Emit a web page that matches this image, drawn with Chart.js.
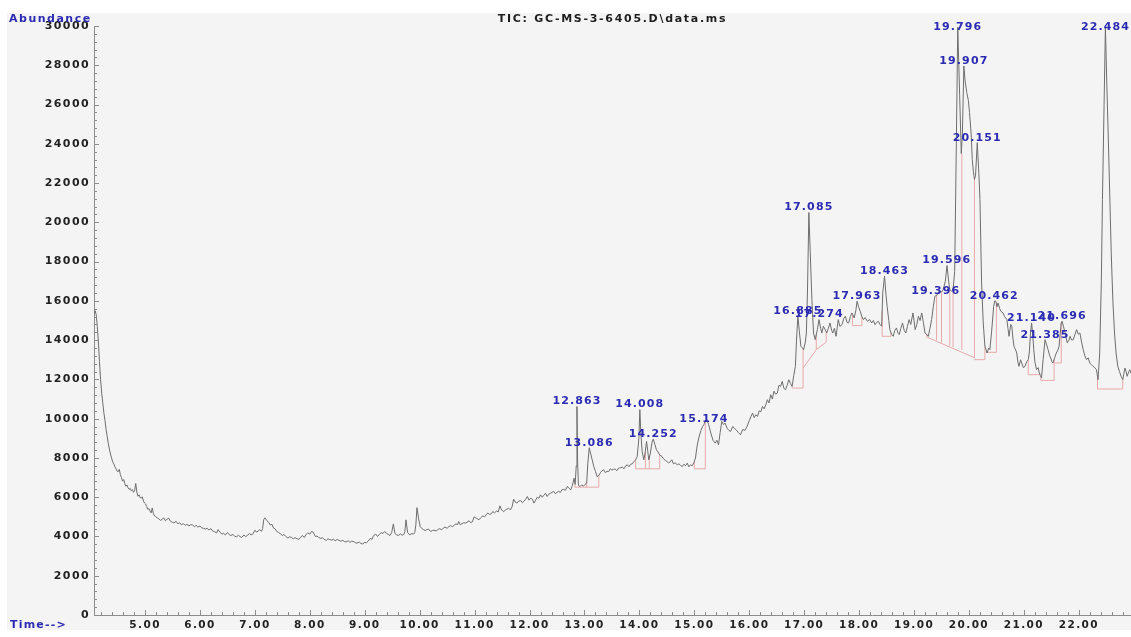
<!DOCTYPE html>
<html><head><meta charset="utf-8">
<script src="https://cdn.jsdelivr.net/npm/chart.js@4/dist/chart.umd.min.js"></script>
<style>html,body{margin:0;padding:0;background:#fff;overflow:hidden}canvas{display:block}</style>
</head><body>
<canvas id="c" width="1131" height="637"></canvas>
<script>
const chartTitle = 'TIC: GC-MS-3-6405.D\\data.ms';
const yAxisTitle = 'Abundance';
const xAxisTitle = 'Time-->';
const xTickValues = [5,6,7,8,9,10,11,12,13,14,15,16,17,18,19,20,21,22];
const xTickLabels = ['5.00','6.00','7.00','8.00','9.00','10.00','11.00','12.00','13.00','14.00','15.00','16.00','17.00','18.00','19.00','20.00','21.00','22.00'];
const yTickValues = [0,2000,4000,6000,8000,10000,12000,14000,16000,18000,20000,22000,24000,26000,28000,30000];
const yTickLabels = ['0','2000','4000','6000','8000','10000','12000','14000','16000','18000','20000','22000','24000','26000','28000','30000'];

// Total ion chromatogram: [retention time (min), abundance]
const tic = [
[4.07,15350],[4.09,15500],[4.11,15300],[4.13,14700],[4.15,13900],[4.17,12900],[4.19,12000],[4.21,11300],[4.23,10800],[4.25,10300],[4.27,9900],[4.29,9450],[4.31,9100],[4.33,8750],[4.35,8450],[4.37,8200],[4.39,8000],[4.41,7800],[4.43,7700],[4.45,7550],[4.47,7450],[4.49,7330],[4.51,7300],[4.53,7420],[4.55,7150],[4.57,7000],[4.59,6820],[4.61,6900],[4.63,6700],[4.65,6560],[4.67,6620],[4.69,6480],[4.71,6400],[4.73,6450],[4.75,6330],[4.77,6380],[4.79,6250],[4.81,6350],[4.83,6700],[4.85,6250],[4.87,6050],[4.89,6120],[4.91,5980],[4.93,5950],[4.95,6020],[4.97,5800],[4.99,5700],
[5.01,5650],[5.03,5520],[5.05,5380],[5.07,5420],[5.09,5300],[5.11,5200],[5.13,5450],[5.15,5180],[5.17,5050],[5.19,5020],[5.22,4950],[5.25,4900],[5.28,4820],[5.31,4870],[5.34,4950],[5.37,4800],[5.40,4880],[5.43,4930],[5.46,4780],[5.50,4720],[5.53,4680],[5.56,4780],[5.60,4640],[5.63,4700],[5.66,4600],[5.70,4650],[5.73,4560],[5.76,4620],[5.80,4540],[5.83,4600],[5.86,4590],[5.90,4500],[5.93,4560],[5.96,4480],
[6.00,4530],[6.03,4440],[6.06,4420],[6.10,4380],[6.13,4420],[6.16,4330],[6.20,4400],[6.23,4280],[6.26,4250],[6.30,4180],[6.33,4350],[6.36,4220],[6.40,4120],[6.43,4160],[6.46,4080],[6.50,4200],[6.53,4100],[6.56,4050],[6.60,4100],[6.63,4020],[6.66,3980],[6.70,4060],[6.73,3990],[6.76,3950],[6.80,4080],[6.83,3990],[6.86,4050],[6.90,4150],[6.93,4080],[6.96,4120],
[7.00,4320],[7.03,4220],[7.06,4280],[7.09,4350],[7.12,4260],[7.14,4400],[7.16,4850],[7.18,4950],[7.20,4880],[7.22,4800],[7.25,4720],[7.28,4580],[7.31,4620],[7.34,4420],[7.37,4380],[7.40,4250],[7.43,4200],[7.46,4150],[7.50,4050],[7.53,4100],[7.56,4000],[7.60,3920],[7.63,3980],[7.66,3960],[7.70,3880],[7.73,3940],[7.76,3900],[7.80,3850],[7.83,3950],[7.86,4050],[7.90,3950],[7.93,4100],[7.96,4180],
[8.00,4120],[8.03,4250],[8.06,4220],[8.10,4000],[8.13,4020],[8.16,3950],[8.20,3900],[8.23,3940],[8.26,3850],[8.30,3800],[8.33,3880],[8.36,3840],[8.40,3820],[8.43,3860],[8.46,3780],[8.50,3850],[8.53,3800],[8.56,3760],[8.60,3800],[8.63,3740],[8.66,3720],[8.70,3780],[8.73,3700],[8.76,3760],[8.80,3740],[8.83,3680],[8.86,3660],[8.90,3720],[8.93,3640],[8.96,3620],
[9.00,3700],[9.03,3680],[9.06,3760],[9.10,3900],[9.13,3850],[9.16,4050],[9.20,4120],[9.23,4000],[9.26,4080],[9.30,4200],[9.33,4150],[9.36,4250],[9.40,4150],[9.43,4100],[9.46,4050],[9.49,4200],[9.52,4640],[9.55,4150],[9.58,4080],[9.61,4050],[9.65,4130],[9.68,4060],[9.71,4100],[9.73,4250],[9.75,4845],[9.78,4200],[9.82,4080],[9.86,4150],[9.89,4120],[9.91,4200],[9.93,4600],[9.95,5470],[9.98,4900],
[10.01,4500],[10.04,4400],[10.07,4350],[10.10,4300],[10.13,4350],[10.16,4380],[10.20,4250],[10.23,4300],[10.26,4320],[10.30,4280],[10.33,4350],[10.36,4400],[10.40,4350],[10.43,4420],[10.46,4480],[10.50,4420],[10.53,4500],[10.56,4550],[10.60,4500],[10.63,4580],[10.66,4640],[10.69,4600],[10.71,4760],[10.74,4600],[10.77,4650],[10.80,4700],[10.83,4680],[10.86,4720],[10.90,4800],[10.93,4700],[10.96,4750],[10.99,5000],
[11.02,4950],[11.05,4900],[11.08,4850],[11.11,4950],[11.15,5050],[11.18,5000],[11.21,5100],[11.24,5200],[11.27,5120],[11.30,5150],[11.33,5270],[11.36,5200],[11.40,5300],[11.43,5250],[11.46,5560],[11.49,5350],[11.53,5270],[11.56,5350],[11.59,5400],[11.62,5440],[11.65,5350],[11.68,5500],[11.71,5900],[11.74,5750],[11.77,5700],[11.80,5800],[11.84,5830],[11.87,5720],[11.90,5800],[11.93,5900],[11.96,6035],[11.99,5850],
[12.02,5950],[12.05,5900],[12.08,5700],[12.11,5850],[12.14,6000],[12.17,5950],[12.20,6120],[12.23,6000],[12.26,6100],[12.29,6200],[12.32,6035],[12.35,6150],[12.38,6200],[12.41,6250],[12.44,6290],[12.47,6180],[12.50,6250],[12.53,6300],[12.56,6240],[12.59,6380],[12.62,6400],[12.65,6350],[12.69,6545],[12.72,6450],[12.75,6375],[12.78,6600],[12.81,6970],[12.83,6650],[12.85,7600],[12.863,10620],[12.875,7800],[12.89,6600],[12.92,6545],[12.95,6630],[12.98,6560],
[13.01,6650],[13.04,6715],[13.06,7700],[13.086,8520],[13.11,8250],[13.14,7905],[13.17,7560],[13.20,7310],[13.23,7050],[13.26,7100],[13.29,7250],[13.32,7350],[13.35,7395],[13.38,7250],[13.41,7320],[13.44,7310],[13.47,7450],[13.50,7380],[13.53,7420],[13.56,7430],[13.59,7350],[13.62,7480],[13.65,7500],[13.69,7530],[13.72,7450],[13.75,7600],[13.78,7650],[13.81,7550],[13.84,7680],[13.87,7700],[13.90,7820],[13.93,7900],[13.96,8075],[13.99,9000],
[14.008,10460],[14.025,9300],[14.05,8330],[14.08,7905],[14.10,8200],[14.13,8840],[14.15,8400],[14.17,7905],[14.20,8250],[14.23,8800],[14.252,8960],[14.28,8700],[14.31,8415],[14.34,8300],[14.37,8150],[14.41,8075],[14.44,7950],[14.47,7880],[14.50,7820],[14.53,7750],[14.56,7800],[14.59,7905],[14.62,7700],[14.65,7750],[14.69,7650],[14.72,7700],[14.75,7620],[14.78,7560],[14.81,7680],[14.84,7600],[14.87,7735],[14.90,7550],[14.93,7650],[14.96,7600],[14.99,7750],
[15.02,7990],[15.05,8600],[15.08,9010],[15.12,9400],[15.15,9600],[15.174,9700],[15.20,9900],[15.23,9945],[15.26,9700],[15.30,9265],[15.34,8900],[15.38,8755],[15.41,8900],[15.44,8670],[15.47,9300],[15.50,9860],[15.53,9700],[15.56,9775],[15.60,9500],[15.63,9400],[15.66,9350],[15.70,9600],[15.73,9500],[15.76,9435],[15.80,9300],[15.84,9180],[15.88,9450],[15.92,9400],[15.96,9605],
[16.00,9900],[16.03,10100],[16.06,10285],[16.09,10050],[16.12,10200],[16.15,10115],[16.18,10400],[16.21,10350],[16.24,10620],[16.27,10500],[16.30,10700],[16.33,10965],[16.36,10800],[16.39,11220],[16.42,11000],[16.45,11400],[16.48,11250],[16.51,11300],[16.54,11700],[16.57,11645],[16.60,11900],[16.63,11550],[16.66,11475],[16.69,11700],[16.72,11985],[16.75,11800],[16.78,11645],[16.81,12200],[16.84,12665],[16.86,14000],[16.885,15215],[16.91,14500],[16.94,13685],[16.97,13600],[16.99,13515],
[17.02,13900],[17.04,14365],[17.06,16500],[17.085,20500],[17.11,18500],[17.14,16065],[17.17,14365],[17.20,14025],[17.24,14535],[17.27,15045],[17.30,14600],[17.32,14365],[17.35,14705],[17.38,14550],[17.41,14365],[17.44,14600],[17.47,14875],[17.50,14500],[17.52,14365],[17.55,14600],[17.58,14195],[17.62,15045],[17.65,14700],[17.69,14790],[17.72,15100],[17.75,15215],[17.78,14900],[17.81,14875],[17.84,15200],[17.87,15385],[17.91,15130],[17.94,15500],[17.963,15980],[17.99,15700],
[18.02,15470],[18.05,15200],[18.08,15045],[18.11,15150],[18.15,14960],[18.19,15050],[18.23,14875],[18.26,15000],[18.29,14790],[18.32,14900],[18.35,14960],[18.38,14800],[18.41,14705],[18.43,16405],[18.463,17255],[18.49,16300],[18.51,15725],[18.54,15000],[18.56,14535],[18.59,14300],[18.62,14195],[18.65,14500],[18.68,14620],[18.71,14350],[18.73,14280],[18.76,14600],[18.79,14875],[18.82,14500],[18.85,14365],[18.88,14700],[18.91,15045],[18.94,14800],[18.98,15385],
[19.00,15000],[19.02,14535],[19.05,14800],[19.08,15215],[19.11,15000],[19.14,15385],[19.17,14900],[19.20,14365],[19.23,14300],[19.26,14195],[19.29,14600],[19.32,15045],[19.35,15700],[19.38,16235],[19.42,16300],[19.46,16490],[19.50,16450],[19.53,16575],[19.57,17000],[19.60,17800],[19.63,17000],[19.65,16575],[19.68,16500],[19.71,16575],[19.74,17500],[19.77,24000],[19.796,29950],[19.83,26500],[19.86,23500],[19.88,24500],[19.907,27965],[19.93,27200],[19.96,26605],[19.99,26200],
[20.01,25585],[20.04,24500],[20.06,23205],[20.08,22600],[20.10,22185],[20.12,22400],[20.151,24055],[20.18,22500],[20.20,21165],[20.23,16915],[20.26,14875],[20.29,13685],[20.33,13345],[20.36,13600],[20.38,13515],[20.41,14365],[20.45,15725],[20.47,16000],[20.49,15980],[20.51,15700],[20.53,15895],[20.56,15600],[20.58,15470],[20.62,15385],[20.65,15200],[20.69,15045],[20.71,14600],[20.73,14195],[20.76,14800],[20.78,14705],[20.80,14100],[20.82,13685],[20.85,13500],[20.87,13345],[20.89,12900],[20.91,12665],[20.94,13000],[20.96,12835],[20.99,12600],
[21.02,12665],[21.05,12900],[21.08,13005],[21.10,13400],[21.12,14365],[21.14,14875],[21.16,14300],[21.18,13515],[21.20,12900],[21.23,12495],[21.26,12600],[21.28,12325],[21.30,12200],[21.32,12070],[21.35,13005],[21.385,14025],[21.41,13800],[21.44,13515],[21.47,13200],[21.49,13090],[21.51,12900],[21.53,12835],[21.56,13100],[21.59,13345],[21.62,13500],[21.64,13685],[21.66,14300],[21.68,14875],[21.696,14960],[21.72,14700],[21.75,14365],[21.79,13855],[21.82,14000],[21.84,14195],[21.87,14000],[21.90,14025],[21.93,14300],[21.96,14535],[21.99,14300],
[22.02,14365],[22.05,13900],[22.08,13515],[22.11,13200],[22.14,13005],[22.17,13100],[22.20,12835],[22.23,12750],[22.26,12665],[22.29,12600],[22.32,12495],[22.35,11985],[22.38,13345],[22.41,17000],[22.43,21165],[22.46,26000],[22.484,29950],[22.51,27000],[22.53,25000],[22.55,22865],[22.59,18445],[22.62,16000],[22.65,14365],[22.68,13300],[22.71,12665],[22.74,12400],[22.77,12155],[22.80,11985],[22.82,12300],[22.84,12580],[22.86,12400],[22.88,12155],[22.91,12400],[22.93,12495],[22.95,12300]
];

// Integrated peaks: retention time label and apex abundance
const peakLabels = ['12.863','13.086','14.008','14.252','15.174','16.885','17.085','17.274','17.963','18.463','19.396','19.596','19.796','19.907','20.151','20.462','21.140','21.385','21.696','22.484'];
const peakTimes = [12.863,13.086,14.008,14.252,15.174,16.885,17.085,17.274,17.963,18.463,19.396,19.596,19.796,19.907,20.151,20.462,21.140,21.385,21.696,22.484];
const peakApex = [10620,8520,10460,8960,9700,15215,20500,15045,15980,17255,16235,17800,29950,27965,24055,15980,14875,14025,14960,29950];

// Integration baselines / drop lines: [t1, abundance1, t2, abundance2]
const baselineSegments = [
[12.825,6510,13.26,6510],[12.825,6510,12.825,6650],[13.04,6510,13.04,6715],[13.26,6510,13.26,7100],
[13.93,7446,14.37,7446],[13.93,7446,13.93,7900],[14.11,7446,14.11,8300],[14.18,7446,14.18,8100],[14.37,7446,14.37,8150],
[15.00,7446,15.20,7446],[15.00,7446,15.00,7800],[15.20,7446,15.20,9900],
[16.78,11560,16.98,11560],[16.78,11560,16.78,11645],[16.98,11560,16.98,13600],
[16.98,12580,17.22,13515],[17.22,13515,17.22,14300],[17.22,13515,17.40,13900],[17.40,13900,17.40,14400],
[17.88,14740,18.05,14740],[17.88,14740,17.88,15250],[18.05,14740,18.05,15200],
[18.42,14195,18.58,14195],[18.42,14195,18.42,15500],[18.58,14195,18.58,14400],
[19.23,14160,20.11,13090],[19.23,14160,19.23,14300],[19.41,13990,19.41,16300],[19.50,13870,19.50,16450],[19.65,13720,19.65,16575],[19.71,13650,19.71,16575],[19.87,13500,19.87,23500],[20.10,13100,20.10,22185],
[20.10,13005,20.29,13005],[20.29,13005,20.29,13685],
[20.31,13380,20.50,13380],[20.50,13380,20.50,15900],
[21.08,12240,21.29,12240],[21.08,12240,21.08,13005],[21.29,12240,21.29,12330],
[21.31,11950,21.55,11950],[21.31,11950,21.31,12100],[21.55,11950,21.55,13000],
[21.56,12835,21.68,12835],[21.68,12835,21.68,14875],
[22.34,11510,22.80,11510],[22.34,11510,22.34,12100],[22.80,11510,22.80,11985]
];

const BLUE = '#2b2bb3';
const TICK_FONT = {family:'DejaVu Sans', size:11, weight:'bold'};
const GLOBAL_LS = '1.4px';
function setLS(chart){ try { chart.ctx.letterSpacing = GLOBAL_LS; } catch(e){} }

const tracePoints = tic.map(p => ({x:p[0], y:p[1]}));
const basePoints = [];
baselineSegments.forEach(s => { basePoints.push({x:s[0],y:s[1]},{x:s[2],y:s[3]},{x:s[2],y:null}); });

function drawText(ctx, text, x, y, font, color, align, ls){
  ctx.save();
  ctx.font = font; ctx.fillStyle = color; ctx.textAlign = align; ctx.textBaseline = 'middle';
  try { ctx.letterSpacing = ls; } catch(e){}
  ctx.fillText(text, x, y);
  ctx.restore();
}

const decorPlugin = {
  id:'decor',
  beforeUpdate: setLS,
  beforeLayout: setLS,
  beforeDraw(chart){
    const c = chart.ctx;
    c.save();
    c.fillStyle = '#ffffff'; c.fillRect(0,0,chart.width,chart.height);
    c.fillStyle = '#f4f4f4'; c.fillRect(7,13,chart.width-7,617);
    c.restore();
    setLS(chart);
  },
  afterDatasetsDraw(chart){
    const {ctx, chartArea, scales:{x, y}} = chart;
    peakTimes.forEach((t,i) => {
      const px = x.getPixelForValue(t);
      const py = Math.max(chartArea.top + 1, y.getPixelForValue(peakApex[i]) - 5);
      drawText(ctx, peakLabels[i], px, py, 'bold 11px "DejaVu Sans"', BLUE, 'center', '1.1px');
    });
  },
  afterDraw(chart){
    const {ctx, chartArea, scales:{x, y}} = chart;
    ctx.save();
    ctx.strokeStyle = '#8c8c8c'; ctx.lineWidth = 1;
    ctx.beginPath();
    for (let k = Math.ceil(x.min*5); k <= Math.floor(x.max*5); k++) {
      const px = Math.round(x.getPixelForValue(k/5)) + 0.5;
      const len = (k % 5 === 0) ? 5 : 3;
      ctx.moveTo(px, chartArea.bottom); ctx.lineTo(px, chartArea.bottom - len);
    }
    for (let k = 0; k <= 75; k++) {
      const py = Math.round(y.getPixelForValue(k*400)) + 0.5;
      const len = (k % 5 === 0) ? 5 : 3;
      ctx.moveTo(chartArea.left, py); ctx.lineTo(chartArea.left + len, py);
    }
    ctx.stroke();
    ctx.restore();
    const midX = (chartArea.left + chartArea.right) / 2;
    drawText(ctx, chartTitle, midX, 19, 'bold 11px "DejaVu Sans"', '#1e1e1e', 'center', '1.7px');
    drawText(ctx, yAxisTitle, 9, 19, 'bold 11px "DejaVu Sans"', BLUE, 'left', '1.5px');
    drawText(ctx, xAxisTitle, 10, 625, 'bold 11px "DejaVu Sans"', BLUE, 'left', '1.2px');
  }
};

new Chart(document.getElementById('c'), {
  type:'line',
  data:{ datasets:[
    {label:'TIC', data:tracePoints, borderColor:'#6e6e6e', borderWidth:1, pointRadius:0, tension:0, fill:false, order:0},
    {label:'Baseline', data:basePoints, borderColor:'#eaa9a9', borderWidth:1, pointRadius:0, tension:0, fill:false, spanGaps:false, order:1}
  ]},
  options:{
    responsive:false, animation:false, devicePixelRatio:1,
    layout:{padding:{top:26,left:0,right:0,bottom:0}},
    plugins:{legend:{display:false}, tooltip:{enabled:false}, title:{display:false}},
    events:[],
    scales:{
      x:{
        type:'linear', min:4.07, max:22.95,
        afterBuildTicks: s => { s.ticks = xTickValues.map(v => ({value:v})); },
        afterFit: s => { s.height = 22; },
        ticks:{ autoSkip:false, maxRotation:0, padding:4, color:'#222', font:{family:'DejaVu Sans', size:10.5, weight:'bold'},
          callback:(v,i) => xTickLabels[i] },
        grid:{ display:false, drawTicks:false },
        border:{ display:true, color:'#8c8c8c', width:1 }
      },
      y:{
        type:'linear', min:0, max:30000,
        afterBuildTicks: s => { s.ticks = yTickValues.map(v => ({value:v})); },
        afterFit: s => { s.width = 94; },
        ticks:{ autoSkip:false, padding:4, color:'#222', font:TICK_FONT, callback:(v,i) => yTickLabels[i] },
        grid:{ display:false, drawTicks:false },
        border:{ display:true, color:'#8c8c8c', width:1 }
      }
    }
  },
  plugins:[decorPlugin]
});
</script>
</body></html>
